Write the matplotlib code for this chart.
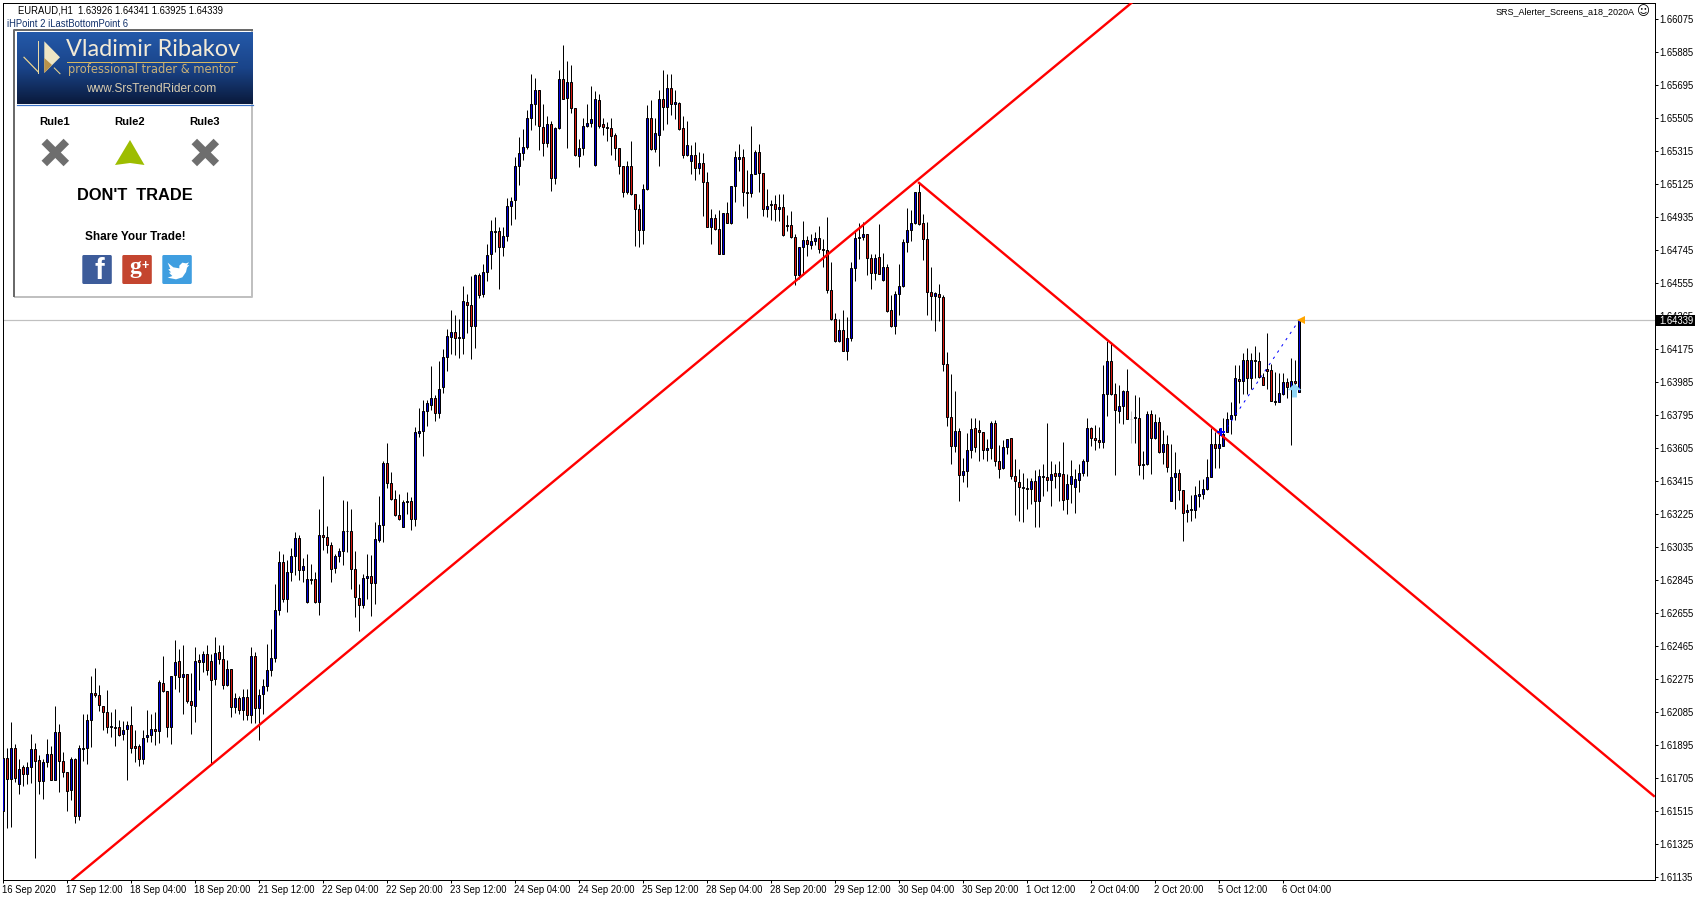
import matplotlib
matplotlib.use('Agg')
import matplotlib.pyplot as plt
import numpy as np
from matplotlib.colors import LinearSegmentedColormap
from matplotlib.patches import FancyBboxPatch, Polygon, Rectangle
from matplotlib.transforms import ScaledTranslation

# EURAUD H1 candles, prices in points (1.64339 = 164339)
highs = [
    162098,161879,162025,161902,161816,161781,161797,161956,161908,161839,
    161816,161927,161891,162117,162014,161854,161741,161828,161822,161897,
    162075,162075,162294,162340,162242,162121,162213,162087,162104,162037,
    162033,162031,162121,161979,161899,161983,162094,162071,162087,162271,
    162405,162208,162294,162501,162450,162473,162306,162309,162461,162421,
    162434,162473,162421,162519,162473,162473,162386,162334,162196,162179,
    162219,162219,162461,162430,162219,162277,162478,162565,162824,163010,
    162997,162958,163029,163120,163102,162970,162997,162935,162889,163252,
    163442,163154,163064,162993,163031,163304,163298,163256,163010,162824,
    162878,162993,162987,163179,163327,163532,163634,163465,163365,163342,
    163304,163352,163323,163726,163836,163880,163880,164076,163909,164105,
    164174,164287,164401,164368,164349,164535,164493,164593,164608,164614,
    164662,164781,164919,164937,164879,164879,165046,165050,165282,165392,
    165438,165549,165755,165732,165668,165582,165518,165488,165453,165783,
    165924,165830,165812,165559,165386,165507,165582,165686,165657,165645,
    165507,165482,165507,165415,165334,165230,165257,165374,165069,165012,
    165123,165578,165607,165507,165668,165778,165760,165760,165668,165597,
    165518,165488,165348,165365,165311,165305,165196,164983,164954,164973,
    164960,165023,165115,165315,165357,165328,165204,165461,165319,165357,
    165190,165094,165031,165063,165069,165069,164948,164971,164835,164764,
    164914,164827,164839,164846,164885,164810,164937,164678,164384,164347,
    164401,164359,164678,164858,164902,164908,164839,164724,164724,164896,
    164729,164666,164487,164507,164663,164810,164989,164974,165081,165135,
    164954,164906,164649,164503,164551,164484,164160,164033,163931,163722,
    163549,163693,163776,163779,163768,163699,163658,163760,163768,163624,
    163653,163658,163664,163543,163486,163463,163434,163434,163480,163486,
    163514,163751,163528,163514,163530,163641,163457,163534,163486,163514,
    163544,163780,163723,163738,163723,164082,164222,164212,163976,163970,
    163941,164062,163815,163907,163901,163588,163819,163822,163803,163784,
    163711,163680,163625,163580,163486,163365,163285,163333,163388,163419,
    163429,163544,163717,163696,163717,163780,163813,163867,164082,164082,
    164149,164183,164149,164189,164155,164034,164264,164091,164045,164034,
    164034,164005,164120,164114,164341,
]
lows = [
    161426,161415,161426,161682,161611,161662,161672,161676,161244,161616,
    161582,161768,161691,161691,161622,161710,161518,161580,161445,161461,
    161801,161783,161883,162171,162089,161979,161964,161941,161887,161948,
    161925,161691,161851,161797,161774,161783,161912,161912,161893,161906,
    162202,161941,161899,162219,162200,162073,162139,161958,162027,162210,
    162313,162296,161787,162242,162363,162215,162235,162056,162079,162075,
    162041,162041,162021,162020,161924,162071,162206,162294,162373,162642,
    162718,162661,162837,162872,162847,162834,162713,162824,162713,162642,
    163016,163001,162834,162885,162947,162930,163006,162793,162632,162551,
    162686,162738,162638,162705,163064,163064,163375,163304,163212,163193,
    163150,163227,163135,163158,163669,163559,163732,163826,163761,163780,
    163924,164049,164148,164142,164123,164148,164267,164119,164180,164468,
    164474,164564,164633,164733,164520,164708,164797,164887,164921,165117,
    165261,165325,165434,165463,165319,165284,165338,165085,165123,165440,
    165611,165332,165534,165284,165223,165290,165453,165453,165227,165444,
    165405,165373,165290,165261,165184,165050,165069,165060,164766,164762,
    164777,165092,165319,165309,165229,165434,165472,165520,165501,165434,
    165273,165284,165181,165148,165184,164939,164877,164779,164862,164720,
    164720,164900,164896,165021,165198,165000,164931,165050,165179,165079,
    164939,164935,164919,164914,164914,164825,164856,164816,164541,164580,
    164603,164708,164752,164775,164727,164647,164497,164340,164215,164215,
    164163,164113,164221,164566,164695,164800,164599,164518,164574,164605,
    164566,164388,164301,164259,164369,164532,164734,164797,164893,164887,
    164686,164369,164340,164277,164336,164046,163729,163511,163582,163297,
    163407,163380,163549,163582,163530,163543,163530,163541,163499,163432,
    163486,163572,163424,163217,163184,163178,163253,163284,163150,163150,
    163326,163357,163271,163374,163299,163246,163223,163288,163230,163351,
    163444,163444,163619,163594,163605,163605,163790,163909,163448,163751,
    163740,163769,163634,163634,163450,163427,163508,163454,163659,163577,
    163515,163469,163300,163254,163304,163070,163177,163185,163204,163266,
    163312,163365,163436,163490,163490,163617,163694,163688,163765,163861,
    163918,163913,163947,164005,164009,163970,163947,163874,163855,163867,
    163909,163893,163623,163938,163925,
]
opens = [
    161515,161822,161699,161879,161670,161766,161728,161770,161874,161810,
    161687,161797,161845,161693,161972,161804,161741,161634,161816,161486,
    161872,161879,162041,162196,162185,162121,162087,161998,162000,161998,
    161960,161987,162012,161891,161887,161814,161941,161954,161989,161977,
    162254,162208,161998,162298,162380,162288,162306,162150,162119,162386,
    162375,162421,162380,162275,162432,162392,162242,162334,162114,162167,
    162094,162173,162068,162409,162110,162188,162236,162325,162398,162672,
    162951,162736,162893,162985,163089,162903,162716,162853,162853,162718,
    163106,163095,163049,162914,162985,163014,163127,163129,162910,162743,
    162703,162859,162870,162828,163077,163162,163521,163406,163314,163221,
    163152,163296,163302,163198,163692,163705,163819,163853,163890,163809,
    163953,164126,164244,164274,164242,164240,164447,164430,164307,164599,
    164493,164620,164724,164856,164856,164762,164827,164998,165035,165230,
    165305,165338,165507,165582,165668,165455,165363,165472,165161,165444,
    165726,165622,165709,165559,165288,165334,165461,165476,165234,165605,
    165467,165455,165444,165409,165334,165230,165081,165230,165069,164983,
    164862,165098,165507,165323,165409,165616,165568,165674,165582,165593,
    165444,165294,165254,165294,165219,165248,165138,164879,164931,164868,
    164724,164960,164902,165110,165271,165277,165081,165075,165184,165311,
    165190,164983,165006,165012,164983,164994,164885,164891,164822,164603,
    164762,164804,164775,164798,164816,164752,164747,164516,164349,164221,
    164286,164165,164240,164643,164814,164820,164839,164701,164614,164706,
    164574,164649,164401,164309,164494,164538,164793,164860,164897,165081,
    164897,164810,164505,164480,164494,164476,164090,163785,163616,163704,
    163449,163472,163595,163722,163710,163699,163595,163607,163751,163532,
    163489,163612,163660,163445,163411,163374,163376,163368,163416,163301,
    163440,163440,163420,163463,163445,163457,163311,163399,163382,163422,
    163458,163532,163717,163665,163653,163640,163913,164108,163913,163820,
    163849,163930,163774,163778,163780,163504,163515,163803,163665,163757,
    163584,163625,163302,163435,163458,163365,163239,163248,163250,163331,
    163342,163371,163438,163630,163602,163619,163694,163769,163792,163999,
    163988,164114,164005,164114,164103,164016,164062,164051,163872,163872,
    163913,163982,163947,163993,163926,
]
closes = [
    161822,161699,161879,161707,161758,161728,161770,161874,161804,161687,
    161799,161845,161693,161972,161804,161739,161630,161816,161486,161879,
    161879,162041,162196,162183,162127,162087,161998,162006,161993,161952,
    161983,162012,161877,161877,161814,161937,161954,161989,161977,162260,
    162206,161998,162294,162375,162288,162306,162148,162125,162380,162375,
    162421,162327,162269,162427,162392,162242,162334,162114,162167,162098,
    162173,162068,162409,162110,162185,162236,162329,162398,162674,162951,
    162736,162893,162985,163089,162905,162928,162853,162845,162718,163106,
    163093,163049,162910,162985,163014,163129,163129,162910,162747,162703,
    162859,162870,162830,163083,163164,163521,163406,163312,163218,163198,
    163296,163302,163198,163694,163705,163820,163861,163890,163809,163947,
    164126,164247,164274,164238,164238,164453,164430,164307,164599,164487,
    164620,164718,164856,164848,164762,164827,165000,165029,165230,165305,
    165340,165507,165582,165668,165461,165363,165472,165161,165444,165726,
    165616,165709,165559,165294,165334,165461,165478,165501,165611,165461,
    165455,165444,165403,165334,165230,165081,165230,165069,164983,164862,
    165098,165507,165323,165415,165616,165568,165674,165582,165599,165440,
    165294,165346,165294,165219,165248,165138,164879,164931,164868,164724,
    164960,164902,165110,165277,165277,165081,165075,165184,165311,165190,
    164983,165000,165012,164983,164994,164833,164891,164820,164603,164764,
    164804,164781,164798,164816,164752,164745,164514,164347,164221,164286,
    164165,164240,164643,164816,164822,164839,164701,164614,164701,164608,
    164649,164395,164305,164493,164540,164793,164862,164897,165081,164895,
    164808,164503,164480,164499,164474,164090,163783,163616,163704,163451,
    163474,163595,163716,163612,163697,163595,163607,163751,163530,163486,
    163612,163658,163445,163415,163382,163382,163368,163416,163301,163445,
    163445,163420,163457,163445,163463,163305,163399,163445,163428,163463,
    163532,163717,163665,163653,163640,163913,164108,163913,163826,163849,
    163930,163772,163770,163782,163504,163515,163803,163665,163757,163584,
    163625,163498,163435,163458,163365,163233,163250,163252,163337,163342,
    163371,163435,163630,163602,163625,163688,163769,163792,164005,163988,
    164114,164005,164114,164103,164016,163970,164049,163878,163878,163924,
    163982,163953,163993,163976,164339,
]
gray_bar = 282

# trend lines and markers: bar number, price in points
rising_x = [17.35, 282.4]
rising_y = [161120, 166172]
falling_x = [229.0, 412.7]
falling_y = [165131, 161602]
dotted_x = [305.0, 324.0]
dotted_y = [163688, 164339]
last_price = 164339
cross_bar, cross_price = 304.4, 163697
up_bar, up_price = 322.85, 163940
tip_bar, tip_price = 324.4, 164339

price_labels = ['1.66075', '1.65885', '1.65695', '1.65505', '1.65315', '1.65125', '1.64935',
                '1.64745', '1.64555', '1.64365', '1.64175', '1.63985', '1.63795', '1.63605',
                '1.63415', '1.63225', '1.63035', '1.62845', '1.62655', '1.62465', '1.62275',
                '1.62085', '1.61895', '1.61705', '1.61515', '1.61325', '1.61135']
time_labels = ['16 Sep 2020', '17 Sep 12:00', '18 Sep 04:00', '18 Sep 20:00', '21 Sep 12:00',
               '22 Sep 04:00', '22 Sep 20:00', '23 Sep 12:00', '24 Sep 04:00', '24 Sep 20:00',
               '25 Sep 12:00', '28 Sep 04:00', '28 Sep 20:00', '29 Sep 12:00', '30 Sep 04:00',
               '30 Sep 20:00', '1 Oct 12:00', '2 Oct 04:00', '2 Oct 20:00', '5 Oct 12:00',
               '6 Oct 04:00']
time_ticks = [16 * k for k in range(len(time_labels))]

plt.rcParams['font.family'] = ['Liberation Sans', 'DejaVu Sans']
W, H = 1700, 900
FS = 6.85
PX = 0.72  # one pixel in points at dpi 100
BLUE, RED = '#0000d8', '#d81810'

fig = plt.figure(figsize=(W / 100, H / 100), dpi=100)
left, right, top, bottom = 2.5, 1654.5, 2.5, 879.5
ax = fig.add_axes([left / W, 1 - bottom / H, (right - left) / W, (bottom - top) / H])

x = np.arange(len(highs))
hi = np.array(highs) / 1e5
lo = np.array(lows) / 1e5
op = np.array(opens) / 1e5
cl = np.array(closes) / 1e5

wick_colors = ['#c0c0c0' if i == gray_bar else 'black' for i in x]
ax.axhline(last_price / 1e5, color='#c0c0c0', lw=PX * 1.2, zorder=1)
ax.vlines(x, lo, hi, colors=wick_colors, lw=PX, snap=True, zorder=2)
fills = [BLUE if c > o else RED for o, c in zip(op, cl)]
fills[gray_bar] = '#c0c0c0'
ax.bar(x, np.abs(cl - op), bottom=np.minimum(op, cl), width=0.5, color=fills,
       edgecolor=wick_colors, linewidth=PX, zorder=3)

ax.plot(rising_x, np.array(rising_y) / 1e5, color='#ff0000', lw=2.4 * PX, zorder=4)
ax.plot(falling_x, np.array(falling_y) / 1e5, color='#ff0000', lw=2.4 * PX, zorder=4)
ax.plot(dotted_x, np.array(dotted_y) / 1e5, color='#0000ff', lw=PX, ls=(0, (2.5, 5)), zorder=5)
ax.plot(cross_bar, cross_price / 1e5, marker='P', ms=6, color='#0000ff', mew=0, zorder=6)
ax.plot(tip_bar, tip_price / 1e5, marker='<', ms=6, color='#ffa500', mew=0, zorder=6)
up_arrow = [(0, 1), (1, 0.05), (0.35, 0.05), (0.35, -1), (-0.35, -1), (-0.35, 0.05), (-1, 0.05)]
ax.plot(up_bar, up_price / 1e5, marker=up_arrow, ms=10, color='#8fd4f5', mew=0, zorder=6)

# bar 0 centred on x=3 so body edges land on whole pixels
ax.set_xlim((left - 3) / 4, (right - 3) / 4)
ax.set_ylim(1.61121, 1.66169)
ax.yaxis.tick_right()
ax.set_yticks([float(s) for s in price_labels], price_labels)
ax.set_xticks(time_ticks, time_labels)
ax.tick_params(axis='y', length=3 * PX, width=PX, pad=1, labelsize=FS)
ax.tick_params(axis='x', length=3 * PX, width=PX, pad=1.5, labelsize=FS)
shift = ScaledTranslation(-1.5 / 100, 0, fig.dpi_scale_trans)
for lab in ax.get_xticklabels():
    lab.set_ha('left')
    lab.set_transform(lab.get_transform() + shift)
for s in ax.spines.values():
    s.set_linewidth(PX)

# everything below is placed in screen pixels
ov = fig.add_axes([0, 0, 1, 1], zorder=10)
ov.patch.set_alpha(0)

ov.add_patch(Rectangle((1655.5, 315), 40, 11, color='black', lw=0))
ov.text(1659, 320.7, '1.64339', color='white', fontsize=FS, va='center')
ov.text(18, 10.5, 'EURAUD,H1  1.63926 1.64341 1.63925 1.64339', fontsize=FS, va='center')
ov.text(7, 24, 'iHPoint 2 iLastBottomPoint 6', fontsize=FS, va='center', color='#10306a')
ov.text(1635, 11.5, 'SRS_Alerter_Screens_a18_2020A', fontsize=6.5, va='center', ha='right')
ov.text(1643, 11.5, '\u263a', fontsize=9, va='center', ha='center', family='DejaVu Sans')

# panel frame
ov.add_patch(Rectangle((14, 29), 238, 268, fc='white', ec='none'))
ov.plot([251.7, 251.7, 14], [29, 296.5, 296.5], color='#c0c0c0', lw=2 * PX, solid_capstyle='butt')
ov.plot([14.3, 14.3, 252.7], [297, 29.5, 29.5], color='#6a6a6a', lw=2 * PX, solid_capstyle='butt')

# header gradient
grad = LinearSegmentedColormap.from_list('hdr', ['#2459a9', '#1a4489', '#0a1a3c'])
ov.imshow(np.linspace(0, 1, 72).reshape(-1, 1), cmap=grad, aspect='auto',
          extent=(17, 252.7, 104, 32), zorder=2)
ov.plot([17, 252.7], [104.5, 104.5], color='#3b73c8', lw=1.2 * PX, zorder=3)

# logo
ov.add_patch(Polygon([(44.3, 41.3), (60, 57.3), (44.3, 73)], fc='#efe6c4', ec='none', zorder=3))
ov.add_patch(Polygon([(44.3, 73), (52, 65), (44.3, 58)], fc='#b8924a', ec='none', zorder=3))
ov.plot([38.3, 38.3], [41, 73], color='#e8d9a8', lw=PX, zorder=3)
ov.plot([24, 38.3], [57.3, 72], color='#f0d890', lw=1.2 * PX, zorder=3)
ov.plot([54.3, 60], [68, 73.7], color='#f0d890', lw=PX, zorder=3)
ov.plot([67, 237], [62, 62], color='#d8b860', lw=PX, zorder=3)
ov.text(66, 50, 'Vladimir Ribakov', family='Lato', fontsize=16.9, color='#f2ead6', va='center', zorder=4)
ov.text(68, 70, 'professional trader & mentor', family='DejaVu Sans', fontsize=8.3,
        color='#c8b078', va='center', zorder=4)
ov.text(151.5, 89, 'www.SrsTrendRider.com', fontsize=8.6, color='#d8ccb0', va='center', ha='center', zorder=4)

# rules
for cx, name in [(54.7, 'Rule1'), (130, 'Rule2'), (205, 'Rule3')]:
    ov.text(cx, 121.7, name, fontsize=8.1, weight='bold', ha='center', va='center', zorder=4)
for cx in (55.3, 205.3):
    for d in (1, -1):
        ov.plot([cx - 11, cx + 11], [152.5 - 11 * d, 152.5 + 11 * d], color='#6e6e6e', lw=5.6,
                solid_capstyle='butt', zorder=4)
ov.add_patch(Polygon([(130, 140), (115, 165), (130, 163), (144.5, 165)], fc='#9dbd00', ec='none', zorder=4))
ov.text(135, 196, "DON'T  TRADE", fontsize=11.8, weight='bold', ha='center', va='center', zorder=4)
ov.text(135.5, 237, 'Share Your Trade!', fontsize=8.5, weight='bold', ha='center', va='center', zorder=4)

# share buttons
for x0, col in [(82.3, '#3d5c9a'), (122.3, '#c4452f'), (162.3, '#3f9ee0')]:
    ov.add_patch(FancyBboxPatch((x0 + 1, 256), 27.5, 27, boxstyle='round,pad=1,rounding_size=1.5',
                                fc=col, ec='none', zorder=4))
ov.text(99, 271, 'f', fontsize=21, weight='bold', color='white', ha='center', va='center', zorder=5)
ov.text(135, 268, 'g', family='Liberation Serif', fontsize=17, weight='bold', color='white',
        ha='center', va='center', zorder=5)
ov.text(145, 266, '+', fontsize=9, weight='bold', color='white', ha='center', va='center', zorder=5)
bird = [(278, 38), (295, 52), (313, 55), (313, 47), (322, 38), (333, 40), (342, 37), (336, 46),
        (343, 45), (336, 53), (333, 66), (322, 82), (303, 88), (278, 83), (292, 78), (282, 68),
        (288, 67), (280, 58), (286, 57)]
ov.add_patch(Polygon([(75 + a / 3, 250 + b / 3) for a, b in bird], fc='white', ec='none', zorder=5))

ov.set_xlim(0, W)
ov.set_ylim(H, 0)
ov.axis('off')

fig.savefig('out.png', dpi=100)
